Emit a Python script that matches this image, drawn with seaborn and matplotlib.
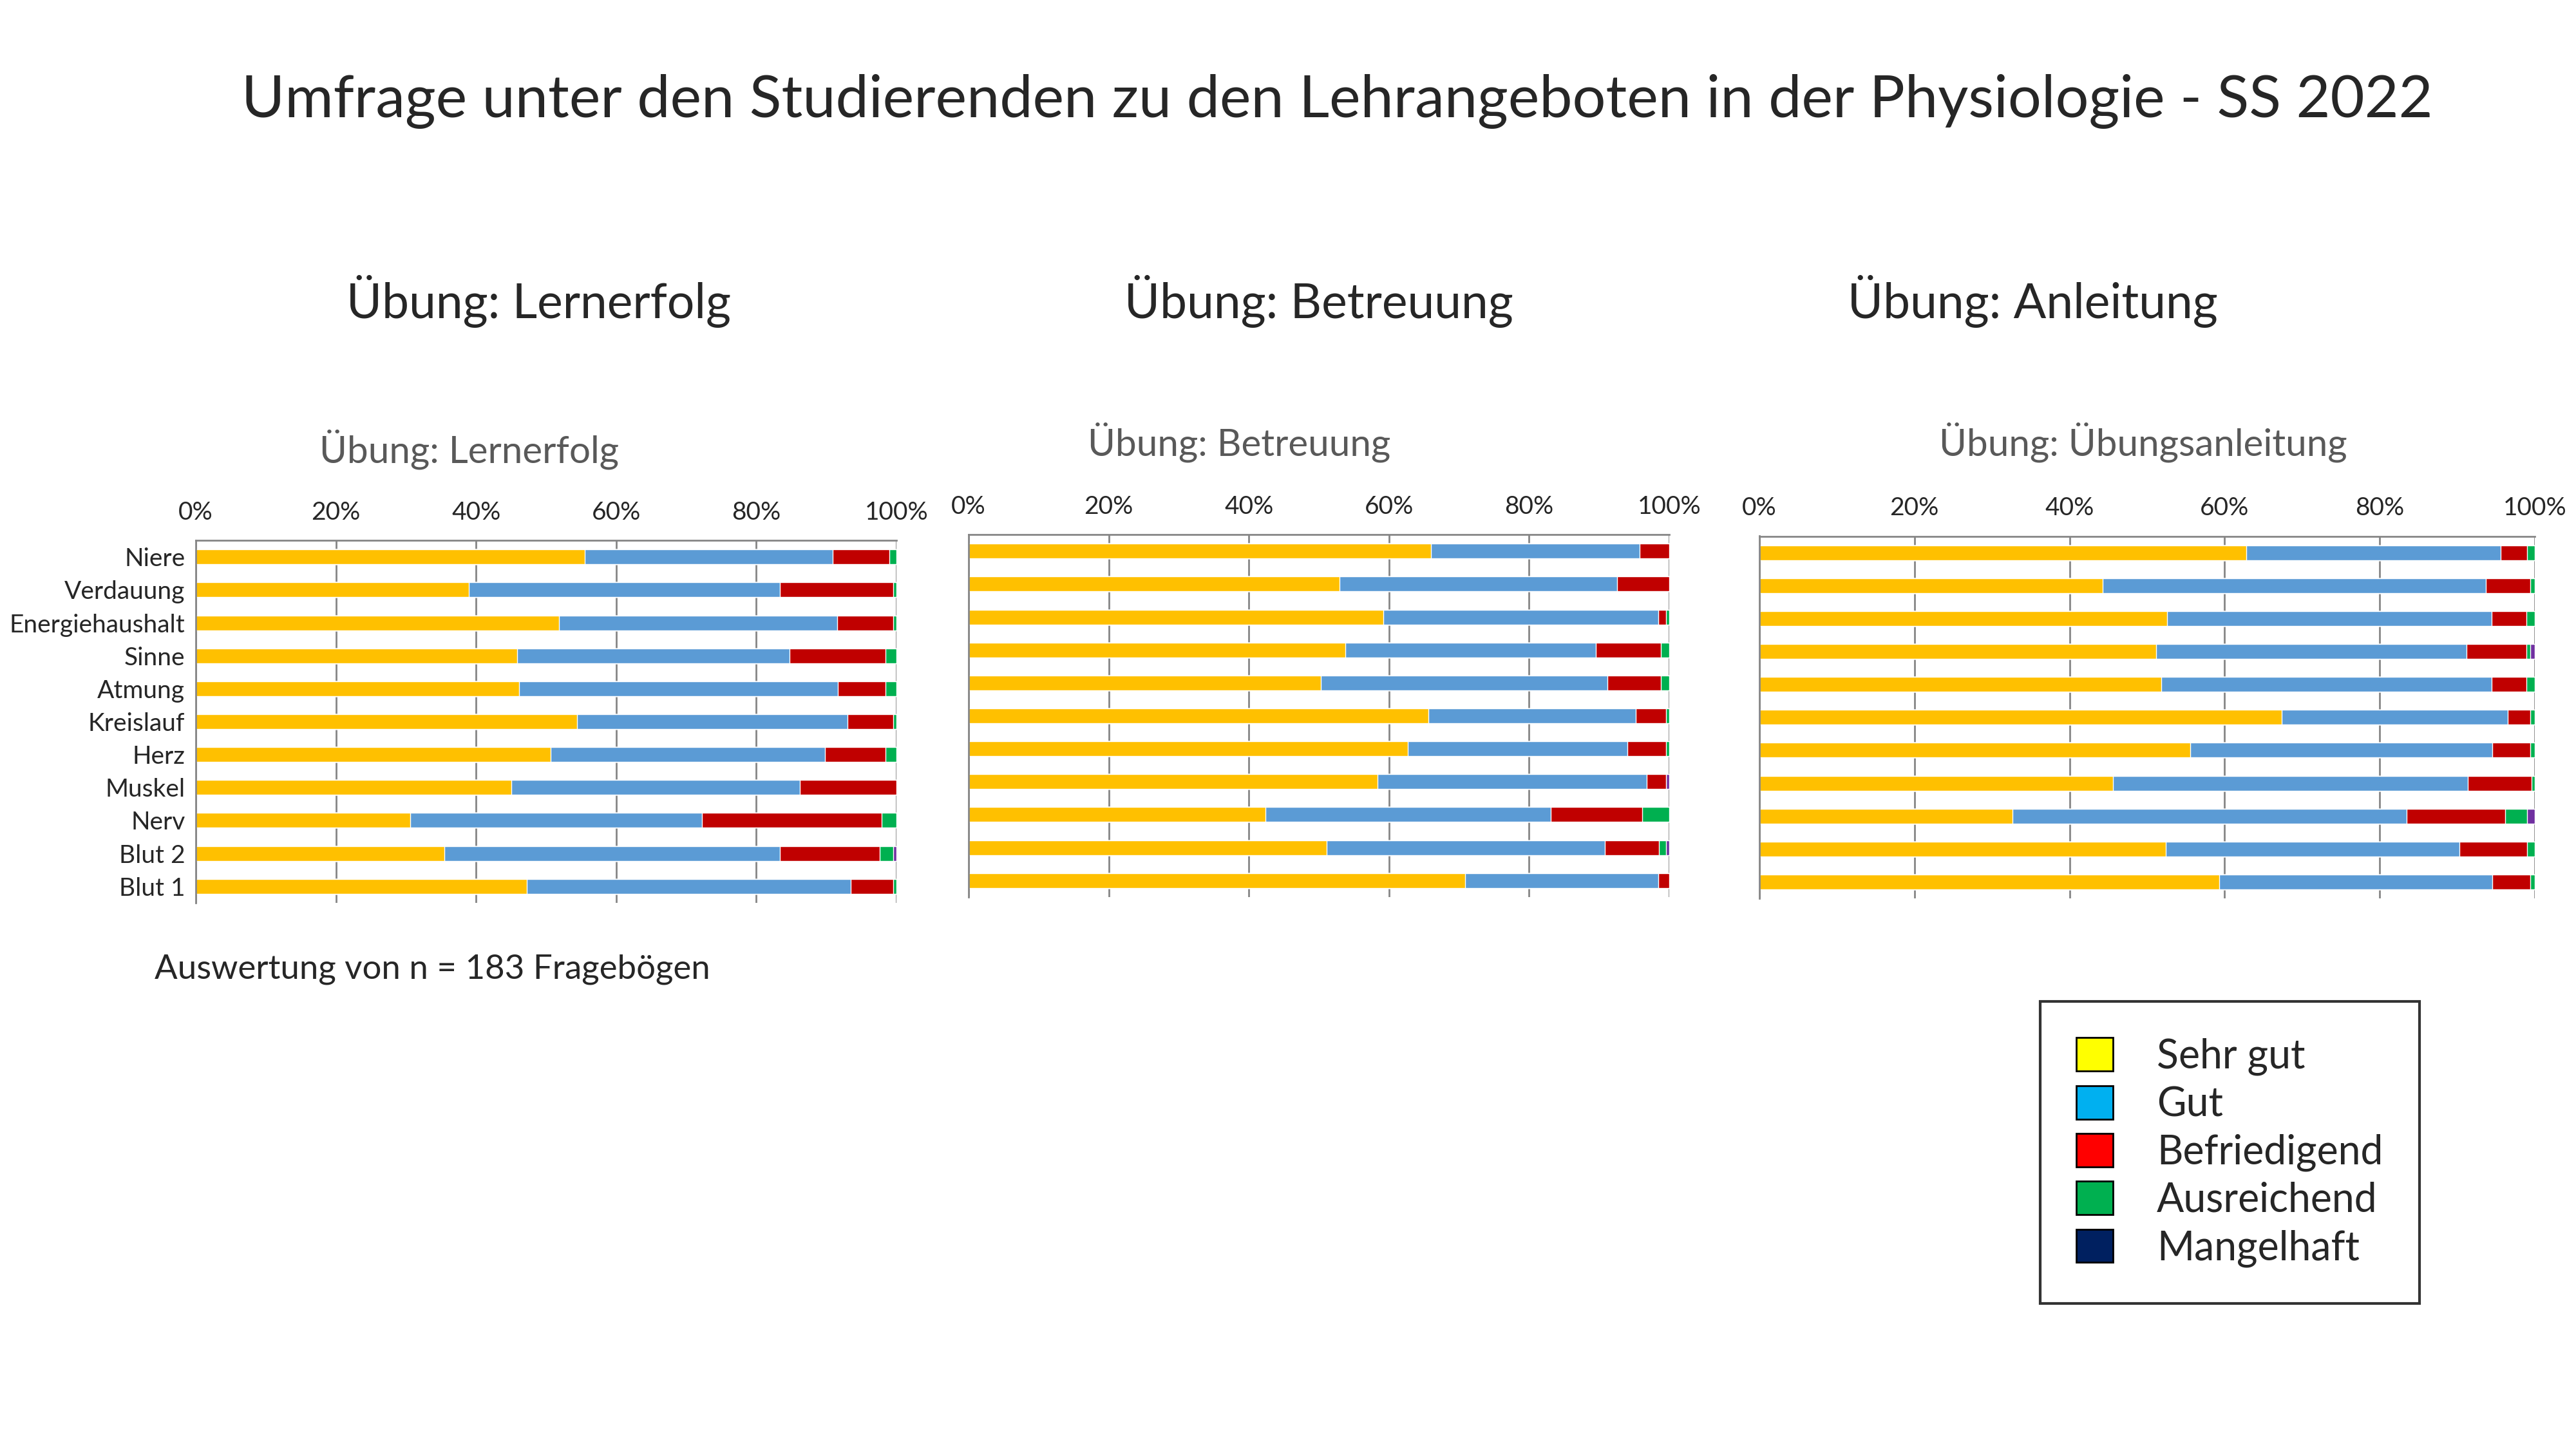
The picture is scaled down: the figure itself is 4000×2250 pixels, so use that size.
import numpy as np
import pandas as pd
import matplotlib
matplotlib.use("Agg")
import matplotlib.pyplot as plt
from matplotlib.patches import Patch
import seaborn as sns

categories = ["Niere", "Verdauung", "Energiehaushalt", "Sinne", "Atmung", "Kreislauf",
              "Herz", "Muskel", "Nerv", "Blut 2", "Blut 1"]
grades = ["Sehr gut", "Gut", "Befriedigend", "Ausreichend", "Mangelhaft"]

# percent per grade, rows in category order
lernerfolg = [
    [55.5, 35.4, 8.1, 1.0, 0], [39.0, 44.4, 16.1, 0.5, 0], [51.8, 39.7, 8.0, 0.5, 0],
    [45.9, 38.8, 13.7, 1.6, 0], [46.1, 45.5, 6.8, 1.6, 0], [54.4, 38.6, 6.5, 0.5, 0],
    [50.6, 39.2, 8.6, 1.6, 0], [45.0, 41.2, 13.8, 0, 0], [30.6, 41.6, 25.7, 2.1, 0],
    [35.5, 47.9, 14.2, 1.9, 0.5], [47.2, 46.3, 6.0, 0.5, 0],
]
betreuung = [
    [66.0, 29.8, 4.2, 0, 0], [52.9, 39.7, 7.4, 0, 0], [59.2, 39.2, 1.1, 0.5, 0],
    [53.8, 35.7, 9.3, 1.2, 0], [50.3, 40.9, 7.6, 1.2, 0], [65.6, 29.6, 4.3, 0.5, 0],
    [62.7, 31.3, 5.5, 0.5, 0], [58.4, 38.4, 2.7, 0, 0.5], [42.4, 40.7, 13.0, 3.9, 0],
    [51.1, 39.7, 7.7, 1.0, 0.5], [70.9, 27.5, 1.6, 0, 0],
]
anleitung = [
    [62.8, 32.8, 3.4, 1.0, 0], [44.3, 49.4, 5.7, 0.6, 0], [52.6, 41.8, 4.5, 1.1, 0],
    [51.2, 40.0, 7.7, 0.5, 0.6], [51.8, 42.6, 4.5, 1.1, 0], [67.4, 29.1, 2.9, 0.6, 0],
    [55.6, 38.9, 4.9, 0.6, 0], [45.6, 45.8, 8.2, 0.4, 0], [32.6, 50.9, 12.7, 2.8, 1.0],
    [52.4, 37.9, 8.7, 1.0, 0], [59.3, 35.2, 4.9, 0.6, 0],
]

bar_colors = ["#FFC000", "#5B9BD5", "#C00000", "#00B050", "#7030A0"]
legend_colors = ["#FFFF00", "#00B0F0", "#FF0000", "#00B050", "#002060"]

sns.set_style("white")
plt.rcParams['font.family'] = ['Lato', 'DejaVu Sans']

fig = plt.figure(figsize=(40, 22.5), dpi=100)

fig.text(0.519, 0.93, "Umfrage unter den Studierenden zu den Lehrangeboten in der Physiologie - SS 2022",
         ha="center", va="center", fontsize=66)

panels = [
    (lernerfolg, [0.076, 0.377, 0.272, 0.25], "Übung: Lernerfolg", "Übung: Lernerfolg", 0.209, 0.182, True),
    (betreuung, [0.376, 0.381, 0.272, 0.25], "Übung: Betreuung", "Übung: Betreuung", 0.512, 0.481, False),
    (anleitung, [0.683, 0.38, 0.301, 0.25], "Übung: Anleitung", "Übung: Übungsanleitung", 0.789, 0.832, False),
]

for data, rect, head, sub, hx, sx, labels in panels:
    ax = fig.add_axes(rect)
    df = pd.DataFrame(data, columns=grades)
    df["Kategorie"] = categories
    cum = df[grades].cumsum(axis=1)
    for i in range(len(grades) - 1, -1, -1):
        sns.barplot(x=cum[grades[i]], y=df["Kategorie"], orient="h", color=bar_colors[i],
                    width=0.45, saturation=1, ax=ax, order=categories)
    ax.set_xlim(0, 100)
    ax.set_ylim(len(categories) - 0.5, -0.5)
    ax.xaxis.tick_top()
    ax.set_xticks(np.arange(0, 101, 20))
    ax.set_xticklabels([f"{v}%" for v in range(0, 101, 20)], fontsize=28)
    ax.tick_params(axis="x", pad=18, length=0)
    ax.grid(axis="x", color="#868686", linewidth=2)
    ax.set_axisbelow(True)
    ax.set_xlabel("")
    ax.set_ylabel("")
    for s in ["right", "bottom"]:
        ax.spines[s].set_visible(False)
    for s in ["top", "left"]:
        ax.spines[s].set_color("#868686")
        ax.spines[s].set_linewidth(2)
    if labels:
        ax.tick_params(axis="y", labelsize=28, length=0, pad=12)
    else:
        ax.set_yticklabels([])
        ax.set_yticks(np.arange(-0.5, len(categories), 1), minor=True)
        ax.tick_params(axis="y", which="major", length=0)
        ax.tick_params(axis="y", which="minor", length=10, color="#868686", width=2)
    fig.text(hx, 0.792, head, ha="center", va="center", fontsize=54)
    fig.text(sx, 0.69 if labels else 0.695, sub, ha="center", va="center", fontsize=42, color="#595959")

fig.text(0.06, 0.331, "Auswertung von n = 183 Fragebögen", ha="left", va="center", fontsize=38)

handles = [Patch(facecolor=c, edgecolor="black", linewidth=2) for c in legend_colors]
leg = fig.legend(handles, grades, loc="upper left", bbox_to_anchor=(0.792, 0.309),
                 fontsize=45, frameon=True, fancybox=False, edgecolor="black",
                 handlelength=0.9, handleheight=0.9, labelspacing=0.25, borderpad=0.9,
                 handletextpad=1.1, borderaxespad=0)
leg.get_frame().set_linewidth(3)
fig.savefig("out.png")
